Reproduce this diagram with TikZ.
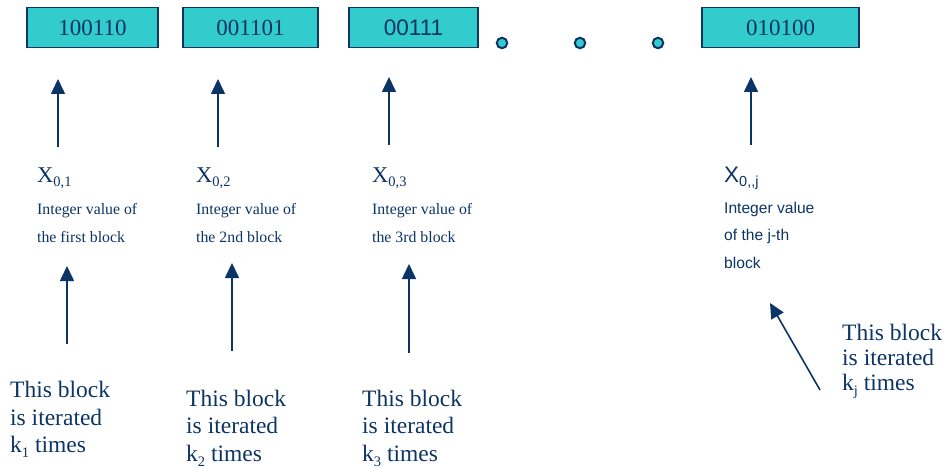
\documentclass[tikz,border=0pt]{standalone}
\usepackage{fontspec}
\setmainfont{Liberation Serif}
\setsansfont{Liberation Sans}
\usetikzlibrary{arrows.meta}
\definecolor{navy}{RGB}{12,52,100}
\definecolor{blockfill}{RGB}{51,204,204}
% lowered, smaller index for X and k
\newcommand\lowsub[1]{\raisebox{-0.22em}{\fontsize{14.5}{14.5}\selectfont #1}}
\begin{document}
\begin{tikzpicture}[x=1pt,y=-1pt,
  blockbox/.style={draw=navy, fill=blockfill, line width=1.5pt, minimum height=40pt,
    inner sep=0pt, text=navy, font=\fontsize{23}{23}\selectfont},
  dotmark/.style={circle, draw=navy, fill=blockfill, line width=2pt,
    minimum size=10.5pt, inner sep=0pt},
  uparrow/.style={draw=navy, line width=1.6pt, -{Triangle[length=15pt,width=14pt]}},
  symlabel/.style={anchor=base west, inner sep=0pt, text=navy,
    font=\fontsize{22.5}{22.5}\selectfont},
  smalltext/.style={anchor=base west, inner sep=0pt, text=navy, align=left,
    font=\fontsize{15.8}{28}\selectfont},
  bigtext/.style={anchor=base west, inner sep=0pt, text=navy, align=left,
    font=\fontsize{23.5}{27.5}\selectfont}]
\useasboundingbox (0,0) rectangle (950,468);

% the blocks of bits
\node[blockbox, minimum width=131pt] (blk1) at (92.5,27.5) {100110};
\node[blockbox, minimum width=135pt] (blk2) at (250.5,27.5) {001101};
\node[blockbox, minimum width=129pt, font=\sffamily\fontsize{22.5}{22.5}\selectfont] (blk3) at (413.5,27.5) {00111};
\node[blockbox, minimum width=157pt] (blkj) at (780.5,27.5) {010100};

% ellipsis dots
\node[dotmark] (dot1) at (502,43) {};
\node[dotmark] (dot2) at (580,43) {};
\node[dotmark] (dot3) at (658,43) {};

% integer values of the blocks (symbol on top, description below;
% multi-line nodes are placed by the baseline of their last line)
\node[symlabel] (x1) at (37,182) {X\lowsub{0,1}};
\node[symlabel] (x2) at (196,182) {X\lowsub{0,2}};
\node[symlabel] (x3) at (372,182) {X\lowsub{0,3}};
\node[symlabel, font=\sffamily\fontsize{22.5}{22.5}\selectfont] (xj) at (724,182) {X\lowsub{0,{},j}};

\node[smalltext] (d1) at (37,242) {Integer value of\\the first block};
\node[smalltext] (d2) at (196,242) {Integer value of\\the 2nd block};
\node[smalltext] (d3) at (372,242) {Integer value of\\the 3rd block};
\node[smalltext, font=\sffamily\fontsize{15.6}{27.5}\selectfont] (dj) at (724,268) {Integer value\\of the j-th\\block};

% iteration notes
\node[bigtext] (n1) at (10,452.5) {This block\\is iterated\\k\lowsub{1} times};
\node[bigtext] (n2) at (186,461) {This block\\is iterated\\k\lowsub{2} times};
\node[bigtext] (n3) at (362,461) {This block\\is iterated\\k\lowsub{3} times};
\node[bigtext, font=\fontsize{23.5}{25}\selectfont] (nj) at (842,390) {This block\\is iterated\\k\lowsub{j} times};

% arrow ends
\coordinate (t1) at (58,79);   \coordinate (b1) at (58,147);
\coordinate (t2) at (218,79);  \coordinate (b2) at (218,147);
\coordinate (t3) at (389,77);  \coordinate (b3) at (389,145);
\coordinate (tj) at (751,77);  \coordinate (bj) at (751,145);
\coordinate (u1) at (67,266);  \coordinate (v1) at (67,344);
\coordinate (u2) at (232,263); \coordinate (v2) at (232,351);
\coordinate (u3) at (409,264); \coordinate (v3) at (409,353);
\coordinate (uj) at (770,303); \coordinate (vj) at (820,390);

\draw[uparrow] (b1) -- (t1);
\draw[uparrow] (b2) -- (t2);
\draw[uparrow] (b3) -- (t3);
\draw[uparrow] (bj) -- (tj);
\draw[uparrow] (v1) -- (u1);
\draw[uparrow] (v2) -- (u2);
\draw[uparrow] (v3) -- (u3);
\draw[uparrow] (vj) -- (uj);
\end{tikzpicture}
\end{document}
